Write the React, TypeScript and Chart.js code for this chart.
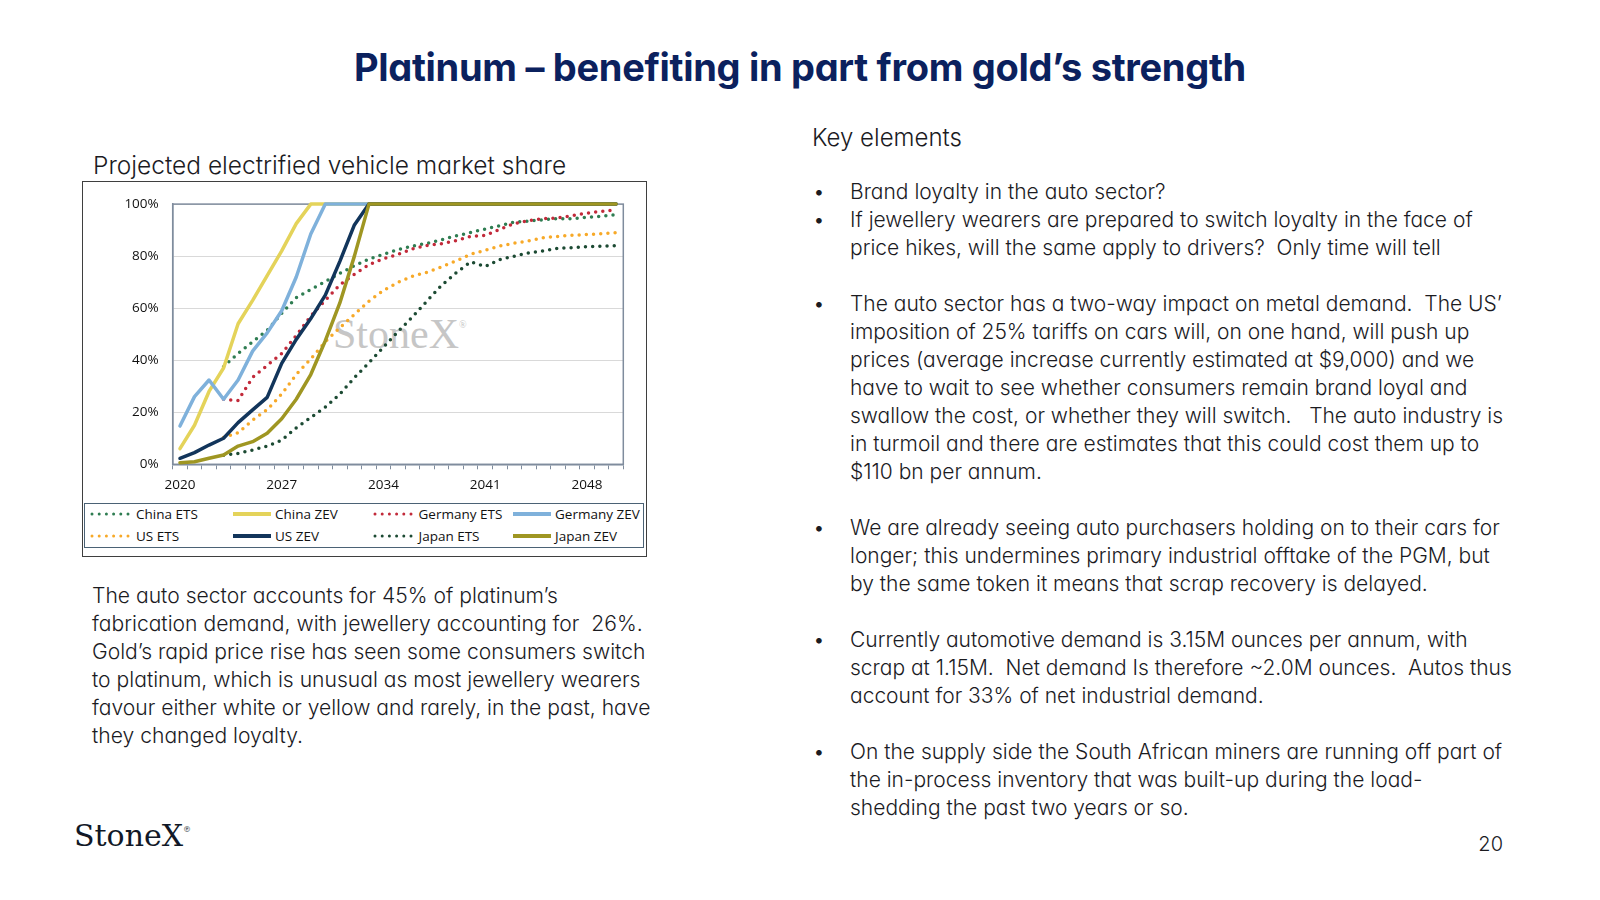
import React, { useEffect, useRef } from "react";
import { Chart, registerables } from "chart.js";
Chart.register(...registerables);

const years = [
  "2020", "2021", "2022", "2023", "2024", "2025", "2026", "2027", "2028", "2029",
  "2030", "2031", "2032", "2033", "2034", "2035", "2036", "2037", "2038", "2039",
  "2040", "2041", "2042", "2043", "2044", "2045", "2046", "2047", "2048", "2049", "2050",
];
const xTickLabels = ["2020", "2027", "2034", "2041", "2048"];
const yTicks = [0, 20, 40, 60, 80, 100];

const chinaETS = [null, null, null, 37.5, 42.6, 47.1, 51.5, 58, 64, 67.2, 70.2, 73.4, 76.3, 78.9, 80.7, 82.5, 83.9, 84.9, 86.3, 87.8, 89.1, 90.4, 91.7, 93.1, 93.5, 94, 94.4, 94.4, 94.9, 95.3, 95.9];
const chinaZEV = [6, 15, 28, 37, 54, 63, 72.5, 82, 92.5, 100, 100, 100, 100, 100, 100, 100, 100, 100, 100, 100, 100, 100, 100, 100, 100, 100, 100, 100, 100, 100, 100];
const germanyETS = [null, null, null, 25, 24.5, 33.4, 38, 42.6, 49.5, 57, 63, 69, 73, 76.7, 79, 80.7, 82.8, 84.1, 84.8, 86, 87.6, 88, 90.3, 92.5, 93.7, 94.4, 94.7, 95.6, 96.5, 97.2, 97.8];
const germanyZEV = [14.7, 26, 32.4, 25, 32.4, 43.5, 50.5, 59, 72, 88.5, 100, 100, 100, 100, 100, 100, 100, 100, 100, 100, 100, 100, 100, 100, 100, 100, 100, 100, 100, 100, 100];
const usETS = [null, null, null, 10.3, 12.1, 17, 21, 27, 34.5, 40.5, 47.1, 52.5, 57.6, 62.7, 66.8, 69.9, 72.3, 73.8, 75.9, 78.2, 80.7, 82.3, 83.9, 85, 85.9, 87.1, 87.6, 88, 88.3, 88.6, 89];
const usZEV = [2.3, 4.5, 7.4, 10, 16, 20.9, 25.7, 38.8, 48, 56, 65, 78, 92, 100, 100, 100, 100, 100, 100, 100, 100, 100, 100, 100, 100, 100, 100, 100, 100, 100, 100];
const japanETS = [null, null, null, 3.5, 4.2, 5.5, 7, 9.3, 14, 18, 22, 27, 33.3, 39, 45, 51, 56.7, 62.8, 68.8, 73.6, 77.8, 76, 78.7, 80, 81.3, 82, 83, 83.3, 83.6, 83.8, 84];
const japanZEV = [0.6, 1, 2.3, 3.6, 7, 8.7, 11.9, 17.5, 25, 34.5, 47.5, 62, 80, 100, 100, 100, 100, 100, 100, 100, 100, 100, 100, 100, 100, 100, 100, 100, 100, 100, 100];

const seriesNames = ["China ETS", "China ZEV", "Germany ETS", "Germany ZEV", "US ETS", "US ZEV", "Japan ETS", "Japan ZEV"];
const seriesValues = [chinaETS, chinaZEV, germanyETS, germanyZEV, usETS, usZEV, japanETS, japanZEV];
const seriesColors = ["#2f7d52", "#e4d35a", "#c22a3a", "#7fb1db", "#f7a928", "#12355b", "#1c4a33", "#9f9622"];
const seriesDotted = [true, false, true, false, true, false, true, false];

const legendOrder = [0, 1, 2, 3, 4, 5, 6, 7];

const rightLines = [
  { t: "Brand loyalty in the auto sector?", b: true },
  { t: "If jewellery wearers are prepared to switch loyalty in the face of", b: true },
  { t: "price hikes, will the same apply to drivers?  Only time will tell" },
  { t: "" },
  { t: "The auto sector has a two-way impact on metal demand.  The US\u2019", b: true },
  { t: "imposition of 25% tariffs on cars will, on one hand, will push up" },
  { t: "prices (average increase currently estimated at $9,000) and we" },
  { t: "have to wait to see whether consumers remain brand loyal and" },
  { t: "swallow the cost, or whether they will switch.   The auto industry is" },
  { t: "in turmoil and there are estimates that this could cost them up to" },
  { t: "$110 bn per annum." },
  { t: "" },
  { t: "We are already seeing auto purchasers holding on to their cars for", b: true },
  { t: "longer; this undermines primary industrial offtake of the PGM, but" },
  { t: "by the same token it means that scrap recovery is delayed." },
  { t: "" },
  { t: "Currently automotive demand is 3.15M ounces per annum, with", b: true },
  { t: "scrap at 1.15M.  Net demand Is therefore ~2.0M ounces.  Autos thus" },
  { t: "account for 33% of net industrial demand." },
  { t: "" },
  { t: "On the supply side the South African miners are running off part of", b: true },
  { t: "the in-process inventory that was built-up during the load-" },
  { t: "shedding the past two years or so." },
];

const leftLines = [
  "The auto sector accounts for 45% of platinum\u2019s",
  "fabrication demand, with jewellery accounting for  26%.",
  "Gold\u2019s rapid price rise has seen some consumers switch",
  "to platinum, which is unusual as most jewellery wearers",
  "favour either white or yellow and rarely, in the past, have",
  "they changed loyalty.",
];

const INTER = "Inter, 'Noto Sans', sans-serif";
const TICKFONT = "'Open Sans', 'Noto Sans', sans-serif";
const AXIS = "#7f8c9d";

function textStyle(fs: number, baseline: number, left: number, weight = 300, color = "#1b1b1f"): React.CSSProperties {
  return {
    position: "absolute",
    left,
    top: baseline - 0.969 * fs,
    fontSize: fs,
    lineHeight: 1.211,
    fontFamily: INTER,
    fontWeight: weight,
    color,
    whiteSpace: "pre",
    fontFeatureSettings: '"cv11" 1',
  };
}

function LegendSample({ color, dotted }: { color: string; dotted: boolean }) {
  const w = dotted ? 40 : 38;
  return (
    <svg width={w} height={8} style={{ display: "block" }}>
      {dotted ? (
        <line x1={2} y1={4} x2={w - 2} y2={4} stroke={color} strokeWidth={3} strokeLinecap="round" strokeDasharray="0 7.2" />
      ) : (
        <line x1={0} y1={4} x2={w} y2={4} stroke={color} strokeWidth={4} />
      )}
    </svg>
  );
}

function EVChart() {
  const ref = useRef<HTMLCanvasElement | null>(null);
  useEffect(() => {
    if (!ref.current) return;
    const framePlugin = {
      id: "frame",
      beforeDatasetsDraw(chart: any) {
        const { ctx, chartArea } = chart;
        ctx.save();
        ctx.strokeStyle = AXIS;
        ctx.lineWidth = 1.5;
        ctx.strokeRect(chartArea.left, chartArea.top, chartArea.right - chartArea.left, chartArea.bottom - chartArea.top);
        ctx.restore();
      },
    };
    const chart = new Chart(ref.current, {
      type: "line",
      data: {
        labels: years,
        datasets: seriesNames.map((name, i) => ({
          label: name,
          data: seriesValues[i],
          borderColor: seriesColors[i],
          backgroundColor: seriesColors[i],
          borderWidth: 3.5,
          borderDash: seriesDotted[i] ? [0, 7.2] : [],
          borderCapStyle: "round",
          borderJoinStyle: "round",
          pointRadius: 0,
          pointHoverRadius: 0,
          tension: 0,
          fill: false,
          spanGaps: false,
          clip: false,
          order: 7 - i,
        })) as any,
      },
      options: {
        animation: false,
        responsive: false,
        maintainAspectRatio: false,
        devicePixelRatio: 1,
        layout: { padding: { top: 21.7, right: 22.7, left: 0, bottom: 0 } },
        plugins: { legend: { display: false }, tooltip: { enabled: false } },
        scales: {
          x: {
            type: "category",
            offset: true,
            grid: { offset: true, drawOnChartArea: false, drawTicks: true, tickLength: 5, color: AXIS, lineWidth: 1 },
            border: { display: true, color: AXIS, width: 1.5 },
            ticks: {
              autoSkip: false,
              maxRotation: 0,
              minRotation: 0,
              padding: 8,
              color: "#111",
              font: { family: TICKFONT, size: 13.5 },
              callback: (_v: any, i: number) => (xTickLabels.includes(years[i]) ? years[i] : ""),
            },
            afterFit: (s: any) => {
              s.height = 37.7;
            },
          },
          y: {
            min: 0,
            max: 100,
            afterBuildTicks: (s: any) => {
              s.ticks = yTicks.map((v) => ({ value: v }));
            },
            grid: { color: "#d9d9d9", drawTicks: false, lineWidth: 1 },
            border: { display: true, color: AXIS, width: 1.5 },
            ticks: {
              padding: 14,
              color: "#111",
              font: { family: TICKFONT, size: 13.5 },
              callback: (v: any) => v + "%",
            },
            afterFit: (s: any) => {
              s.width = 89.7;
            },
          },
        },
      } as any,
      plugins: [framePlugin],
    });
    return () => chart.destroy();
  }, []);
  return <canvas ref={ref} width={563} height={320} style={{ position: "absolute", left: 0, top: 0, width: 563, height: 320 }} />;
}

export default function App() {
  const legendCols = [7, 150, 289.5, 430];
  const legendRows = [332, 354];
  return (
    <div style={{ position: "absolute", left: 0, top: 0, width: 1600, height: 900, background: "#fff", overflow: "hidden" }}>
      <div
        style={{
          position: "absolute",
          left: 0,
          width: 1600,
          top: 80.5 - 0.969 * 38,
          textAlign: "center",
          fontFamily: INTER,
          fontWeight: 700,
          fontSize: 38,
          lineHeight: 1.211,
          color: "#0b215e",
          letterSpacing: -0.3,
          fontFeatureSettings: '"cv11" 1',
        }}
      >
        Platinum – benefiting in part from gold’s strength
      </div>

      <div style={textStyle(24.5, 174.5, 93)}>Projected electrified vehicle market share</div>

      <div style={{ position: "absolute", left: 82, top: 181, width: 563, height: 374, border: "1px solid #3f3f3f", background: "#fff" }}>
        <div
          style={{
            position: "absolute",
            left: 250,
            top: 166.7 - 0.891 * 42,
            fontFamily: "'Liberation Serif', 'DejaVu Serif', serif",
            fontSize: 42,
            lineHeight: 1.107,
            color: "#c6c6c6",
            whiteSpace: "pre",
          }}
        >
          StoneX<span style={{ fontSize: 10, verticalAlign: "top", position: "relative", top: 8 }}>®</span>
        </div>
        <EVChart />
        <div style={{ position: "absolute", left: 1, top: 321, width: 558, height: 43, border: "1.5px solid #4b6275" }} />
        {legendOrder.map((si, k) => {
          const col = k % 4;
          const row = Math.floor(k / 4);
          const x = legendCols[col];
          const y = legendRows[row];
          const dotted = seriesDotted[si];
          return (
            <div
              key={si}
              style={{
                position: "absolute",
                left: x,
                top: y - 10,
                height: 20,
                display: "flex",
                alignItems: "center",
                gap: dotted ? 6 : 4,
                fontFamily: TICKFONT,
                fontSize: 13.5,
                color: "#111",
                whiteSpace: "pre",
              }}
            >
              <LegendSample color={seriesColors[si]} dotted={dotted} />
              <span>{seriesNames[si]}</span>
            </div>
          );
        })}
      </div>

      {leftLines.map((t, k) => (
        <div key={"l" + k} style={textStyle(21.1, 603.3 + 28 * k, 92)}>
          {t}
        </div>
      ))}

      <div style={textStyle(24, 146, 812)}>Key elements</div>

      {rightLines.map((ln, k) => (
        <React.Fragment key={"r" + k}>
          {ln.b ? <div style={textStyle(21, 199.1 + 28 * k, 813)}>•</div> : null}
          <div style={textStyle(21, 199.1 + 28 * k, 850)}>{ln.t}</div>
        </React.Fragment>
      ))}

      <div
        style={{
          position: "absolute",
          left: 74,
          top: 846.7 - 0.928 * 30,
          fontFamily: "'DejaVu Serif', 'Liberation Serif', serif",
          fontSize: 30,
          lineHeight: 1.164,
          color: "#111827",
          whiteSpace: "pre",
        }}
      >
        StoneX<span style={{ fontSize: 8, verticalAlign: "top", position: "relative", top: 6 }}>®</span>
      </div>

      <div style={{ ...textStyle(20, 851, 1462), width: 41, textAlign: "right" }}>20</div>
    </div>
  );
}
